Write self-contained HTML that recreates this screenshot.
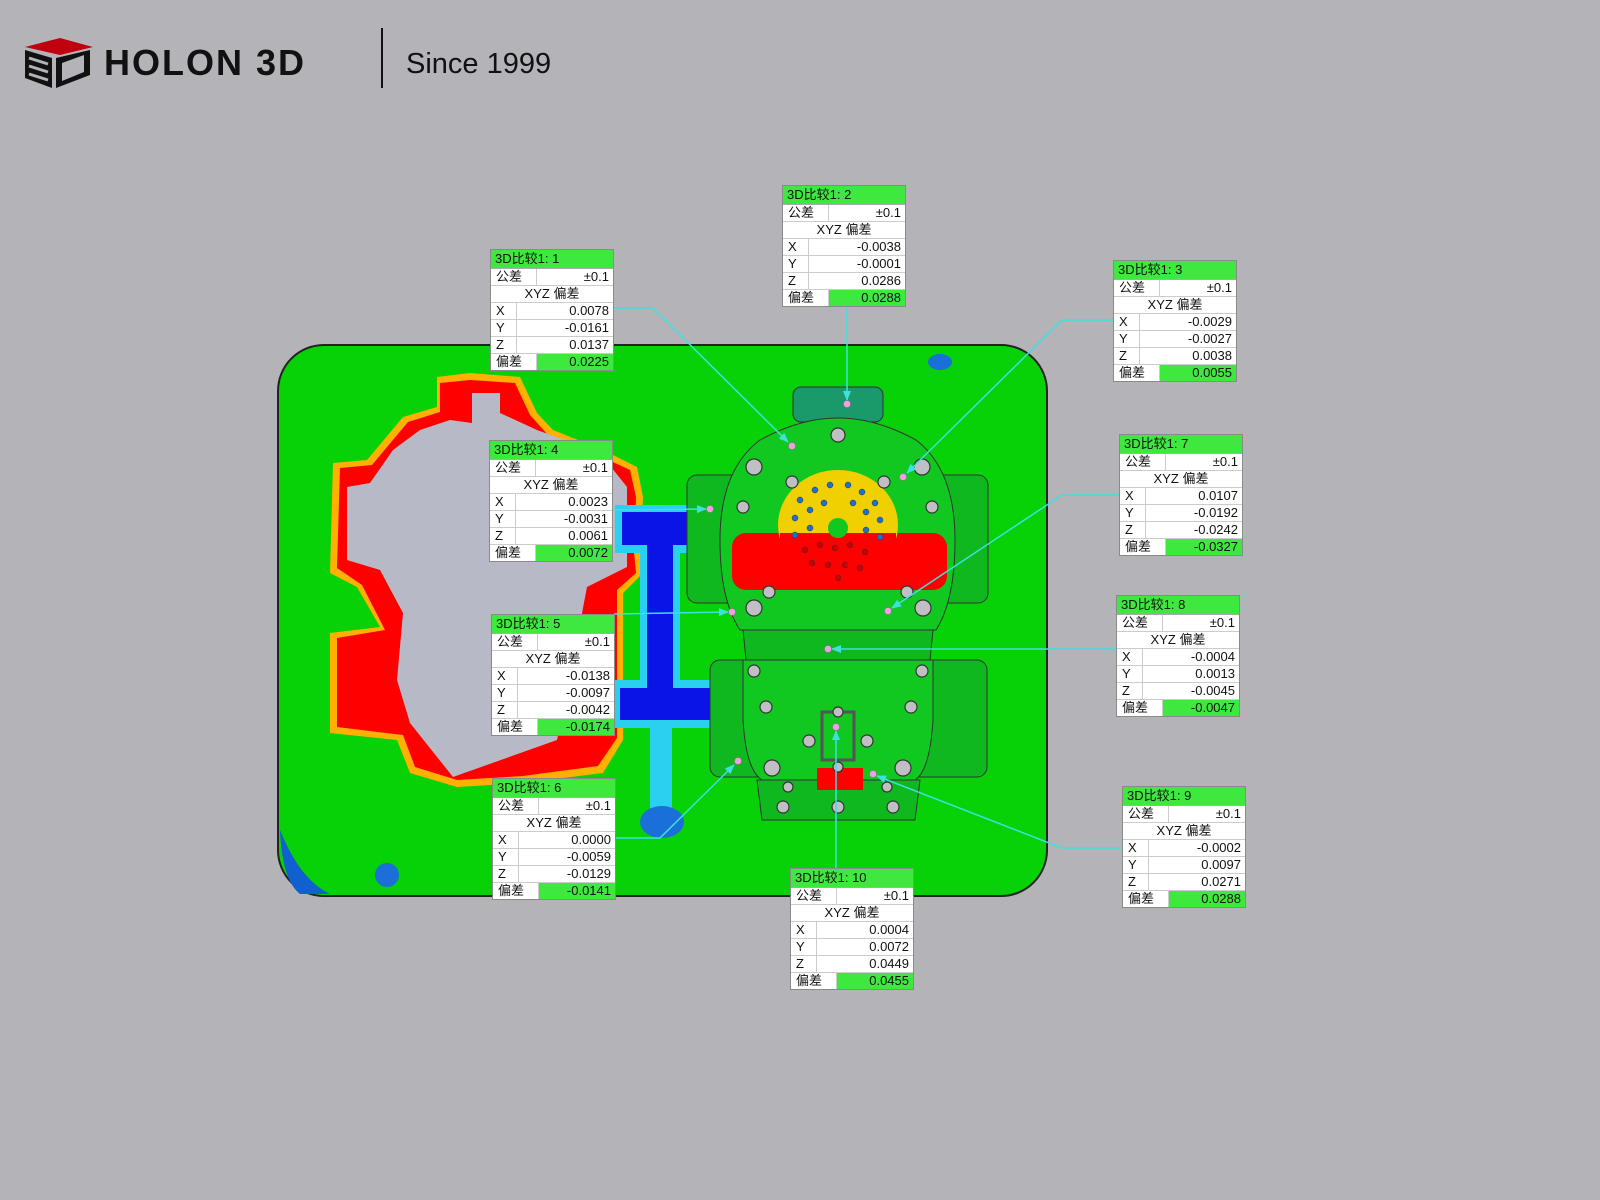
<!DOCTYPE html>
<html><head><meta charset="utf-8"><style>
body{margin:0;width:1600px;height:1200px;background:#b4b3b8;position:relative;overflow:hidden;font-family:"Liberation Sans","Noto Sans CJK SC",sans-serif}
.b{position:absolute;width:122px;border:1px solid #8a8a8a;background:#fff;font-size:13px;line-height:16px;color:#111}
.b .t{background:#3ee83e;height:18px;line-height:18px;padding-left:4px;border-bottom:1px solid #aaa}
.r{display:flex;height:16px;border-bottom:1px solid #ccc}
.r:last-child{border-bottom:none}
.r .k{padding-left:5px;border-right:1px solid #ccc}
.r .v{flex:1;text-align:right;padding-right:4px}
.r.c{justify-content:center}
.k1{width:40px}.k2{width:20px}
.g{background:#3ee83e}
</style></head><body>
<svg width="1600" height="1200" style="position:absolute;left:0;top:0">
<defs><marker id="a" markerWidth="10" markerHeight="10" refX="9" refY="5" orient="auto" markerUnits="userSpaceOnUse"><path d="M0,1 L10,5 L0,9z" fill="#3ee0e0"/></marker></defs>
<!-- logo -->
<polygon points="25,47 60,38 93,47 60,55" fill="#c0000f"/>
<path d="M25,50 L25,78 L52,88 L52,58 Z M56,58 L56,88 L90,75 L90,50 Z" fill="#111"/>
<path d="M29,58 L48,64 M29,66 L48,72 M29,74 L48,80" stroke="#b4b3b8" stroke-width="3"/>
<path d="M62,63 L84,55 L84,72 L62,81 Z" fill="#b4b3b8"/>
<text x="104" y="75" font-family="Liberation Sans" font-weight="bold" font-size="36" fill="#111" letter-spacing="2">HOLON 3D</text>
<line x1="382" y1="28" x2="382" y2="88" stroke="#111" stroke-width="2"/>
<text x="406" y="73" font-family="Liberation Sans" font-size="29" fill="#111">Since 1999</text>
<!-- panel -->
<rect x="278" y="345" width="769" height="551" rx="46" fill="#07d107" stroke="#222" stroke-width="2"/>
<path d="M280,830 Q300,880 330,894 L300,894 Q282,880 280,830Z" fill="#1060d0"/>
<circle cx="387" cy="875" r="12" fill="#1a6fd8"/>
<ellipse cx="940" cy="362" rx="12" ry="8" fill="#1a6fd8"/>
<!-- red/gray blob -->
<polygon points="437,377 470,373 520,377 537,413 553,430 603,450 637,467 643,497 640,553 643,573 623,593 623,740 603,773 523,783 457,787 410,773 397,740 330,733 330,633 380,627 357,587 330,573 333,463 367,460 403,417 437,407" fill="#ffb000"/>
<polygon points="440,383 470,380 515,383 530,415 548,435 600,456 630,470 636,497 634,553 636,573 617,590 617,738 598,766 523,776 457,780 415,767 403,735 337,727 337,638 385,630 362,585 337,568 340,468 372,465 408,422 440,412" fill="#ff0000"/>
<polygon points="472,393 500,393 500,413 537,430 600,453 627,487 627,567 587,587 563,713 557,740 453,777 410,723 397,680 403,613 380,570 347,560 347,487 370,483 393,450 420,430 450,420 472,423" fill="#b7b9c6"/>
<!-- blue T -->
<path d="M615,505 H705 V553 H680 V680 H735 V728 H612 V680 H640 V553 H615Z" fill="#29d0f0"/>
<path d="M622,512 H698 V545 H673 V688 H728 V720 H620 V688 H647 V545 H622Z" fill="#0a14e6"/>
<rect x="650" y="728" width="22" height="80" fill="#29d0f0"/>
<ellipse cx="662" cy="822" rx="22" ry="16" fill="#1a6fd8"/>
<!-- object -->
<rect x="687" y="475" width="301" height="128" rx="10" fill="#10b820" stroke="#333"/>
<rect x="710" y="660" width="277" height="117" rx="10" fill="#10b820" stroke="#333"/>
<rect x="793" y="387" width="90" height="35" rx="8" fill="#1a9a6a" stroke="#333"/>
<path d="M740,630 Q720,600 720,540 Q720,470 760,440 Q800,418 838,418 Q876,418 916,440 Q955,470 955,540 Q955,600 936,630Z" fill="#10c820" stroke="#333"/>
<rect x="732" y="533" width="215" height="57" rx="14" fill="#ff0000"/>
<ellipse cx="838" cy="525" rx="60" ry="55" fill="#f0d000"/>
<rect x="780" y="533" width="116" height="50" fill="#ff0000"/>
<circle cx="838" cy="528" r="10" fill="#10c820"/>
<g fill="#1a6fd8" stroke="#333" stroke-width="0.5">
<circle cx="800" cy="500" r="3"/><circle cx="815" cy="490" r="3"/><circle cx="830" cy="485" r="3"/><circle cx="848" cy="485" r="3"/><circle cx="862" cy="492" r="3"/><circle cx="875" cy="503" r="3"/><circle cx="795" cy="518" r="3"/><circle cx="810" cy="510" r="3"/><circle cx="824" cy="503" r="3"/><circle cx="853" cy="503" r="3"/><circle cx="866" cy="512" r="3"/><circle cx="880" cy="520" r="3"/><circle cx="810" cy="528" r="3"/><circle cx="866" cy="530" r="3"/><circle cx="795" cy="535" r="3"/><circle cx="880" cy="537" r="3"/>
</g>
<g fill="#c00" stroke="#333" stroke-width="0.5">
<circle cx="805" cy="550" r="3"/><circle cx="820" cy="545" r="3"/><circle cx="835" cy="548" r="3"/><circle cx="850" cy="545" r="3"/><circle cx="865" cy="552" r="3"/><circle cx="812" cy="563" r="3"/><circle cx="828" cy="565" r="3"/><circle cx="845" cy="565" r="3"/><circle cx="860" cy="568" r="3"/><circle cx="838" cy="578" r="3"/>
</g>
<path d="M743,630 H933 L930,660 H746Z" fill="#10b820" stroke="#333"/>
<path d="M743,660 H933 V720 Q930,770 915,780 H762 Q746,770 743,720Z" fill="#10c820" stroke="#333"/>
<path d="M757,780 H920 L915,820 H762Z" fill="#10b820" stroke="#333"/>
<rect x="817" y="768" width="46" height="22" fill="#ff0000"/>
<rect x="822" y="712" width="32" height="48" fill="none" stroke="#555" stroke-width="3"/>
<g fill="#c0c0c4" stroke="#333" stroke-width="1.2">
<circle cx="838" cy="435" r="7"/><circle cx="754" cy="467" r="8"/><circle cx="922" cy="467" r="8"/><circle cx="792" cy="482" r="6"/><circle cx="884" cy="482" r="6"/><circle cx="743" cy="507" r="6"/><circle cx="932" cy="507" r="6"/><circle cx="769" cy="592" r="6"/><circle cx="907" cy="592" r="6"/><circle cx="754" cy="608" r="8"/><circle cx="923" cy="608" r="8"/><circle cx="754" cy="671" r="6"/><circle cx="922" cy="671" r="6"/><circle cx="766" cy="707" r="6"/><circle cx="911" cy="707" r="6"/><circle cx="809" cy="741" r="6"/><circle cx="867" cy="741" r="6"/><circle cx="838" cy="712" r="5"/><circle cx="772" cy="768" r="8"/><circle cx="903" cy="768" r="8"/><circle cx="788" cy="787" r="5"/><circle cx="887" cy="787" r="5"/><circle cx="783" cy="807" r="6"/><circle cx="838" cy="807" r="6"/><circle cx="893" cy="807" r="6"/><circle cx="838" cy="767" r="5"/>
</g>
<!-- leaders -->
<g stroke="#3ee0e0" stroke-width="1.5" fill="none" marker-end="url(#a)">
<polyline points="613,308 653,308 788,442"/>
<polyline points="847,306 847,400"/>
<polyline points="1113,320 1062,320 907,473"/>
<polyline points="612,510 706,509"/>
<polyline points="614,614 728,612"/>
<polyline points="615,838 660,838 734,765"/>
<polyline points="1119,495 1062,495 892,608"/>
<polyline points="1116,649 832,649"/>
<polyline points="1122,848 1062,848 877,776"/>
<polyline points="836,868 836,731"/>
</g>
<g fill="#f0a0e0" stroke="#a060a0" stroke-width="0.5">
<circle cx="847" cy="404" r="3.5"/><circle cx="792" cy="446" r="3.5"/><circle cx="903" cy="477" r="3.5"/><circle cx="710" cy="509" r="3.5"/><circle cx="732" cy="612" r="3.5"/><circle cx="888" cy="611" r="3.5"/><circle cx="828" cy="649" r="3.5"/><circle cx="836" cy="727" r="3.5"/><circle cx="738" cy="761" r="3.5"/><circle cx="873" cy="774" r="3.5"/>
</g>
</svg>

<div class="b" style="left:490px;top:249px"><div class="t">3D比较1: 1</div><div class="r"><span class="k k1">公差</span><span class="v">±0.1</span></div><div class="r c">XYZ 偏差</div><div class="r"><span class="k k2">X</span><span class="v">0.0078</span></div><div class="r"><span class="k k2">Y</span><span class="v">-0.0161</span></div><div class="r"><span class="k k2">Z</span><span class="v">0.0137</span></div><div class="r"><span class="k k1">偏差</span><span class="v g">0.0225</span></div></div>

<div class="b" style="left:782px;top:185px"><div class="t">3D比较1: 2</div><div class="r"><span class="k k1">公差</span><span class="v">±0.1</span></div><div class="r c">XYZ 偏差</div><div class="r"><span class="k k2">X</span><span class="v">-0.0038</span></div><div class="r"><span class="k k2">Y</span><span class="v">-0.0001</span></div><div class="r"><span class="k k2">Z</span><span class="v">0.0286</span></div><div class="r"><span class="k k1">偏差</span><span class="v g">0.0288</span></div></div>

<div class="b" style="left:1113px;top:260px"><div class="t">3D比较1: 3</div><div class="r"><span class="k k1">公差</span><span class="v">±0.1</span></div><div class="r c">XYZ 偏差</div><div class="r"><span class="k k2">X</span><span class="v">-0.0029</span></div><div class="r"><span class="k k2">Y</span><span class="v">-0.0027</span></div><div class="r"><span class="k k2">Z</span><span class="v">0.0038</span></div><div class="r"><span class="k k1">偏差</span><span class="v g">0.0055</span></div></div>

<div class="b" style="left:489px;top:440px"><div class="t">3D比较1: 4</div><div class="r"><span class="k k1">公差</span><span class="v">±0.1</span></div><div class="r c">XYZ 偏差</div><div class="r"><span class="k k2">X</span><span class="v">0.0023</span></div><div class="r"><span class="k k2">Y</span><span class="v">-0.0031</span></div><div class="r"><span class="k k2">Z</span><span class="v">0.0061</span></div><div class="r"><span class="k k1">偏差</span><span class="v g">0.0072</span></div></div>

<div class="b" style="left:491px;top:614px"><div class="t">3D比较1: 5</div><div class="r"><span class="k k1">公差</span><span class="v">±0.1</span></div><div class="r c">XYZ 偏差</div><div class="r"><span class="k k2">X</span><span class="v">-0.0138</span></div><div class="r"><span class="k k2">Y</span><span class="v">-0.0097</span></div><div class="r"><span class="k k2">Z</span><span class="v">-0.0042</span></div><div class="r"><span class="k k1">偏差</span><span class="v g">-0.0174</span></div></div>

<div class="b" style="left:492px;top:778px"><div class="t">3D比较1: 6</div><div class="r"><span class="k k1">公差</span><span class="v">±0.1</span></div><div class="r c">XYZ 偏差</div><div class="r"><span class="k k2">X</span><span class="v">0.0000</span></div><div class="r"><span class="k k2">Y</span><span class="v">-0.0059</span></div><div class="r"><span class="k k2">Z</span><span class="v">-0.0129</span></div><div class="r"><span class="k k1">偏差</span><span class="v g">-0.0141</span></div></div>

<div class="b" style="left:1119px;top:434px"><div class="t">3D比较1: 7</div><div class="r"><span class="k k1">公差</span><span class="v">±0.1</span></div><div class="r c">XYZ 偏差</div><div class="r"><span class="k k2">X</span><span class="v">0.0107</span></div><div class="r"><span class="k k2">Y</span><span class="v">-0.0192</span></div><div class="r"><span class="k k2">Z</span><span class="v">-0.0242</span></div><div class="r"><span class="k k1">偏差</span><span class="v g">-0.0327</span></div></div>

<div class="b" style="left:1116px;top:595px"><div class="t">3D比较1: 8</div><div class="r"><span class="k k1">公差</span><span class="v">±0.1</span></div><div class="r c">XYZ 偏差</div><div class="r"><span class="k k2">X</span><span class="v">-0.0004</span></div><div class="r"><span class="k k2">Y</span><span class="v">0.0013</span></div><div class="r"><span class="k k2">Z</span><span class="v">-0.0045</span></div><div class="r"><span class="k k1">偏差</span><span class="v g">-0.0047</span></div></div>

<div class="b" style="left:1122px;top:786px"><div class="t">3D比较1: 9</div><div class="r"><span class="k k1">公差</span><span class="v">±0.1</span></div><div class="r c">XYZ 偏差</div><div class="r"><span class="k k2">X</span><span class="v">-0.0002</span></div><div class="r"><span class="k k2">Y</span><span class="v">0.0097</span></div><div class="r"><span class="k k2">Z</span><span class="v">0.0271</span></div><div class="r"><span class="k k1">偏差</span><span class="v g">0.0288</span></div></div>

<div class="b" style="left:790px;top:868px"><div class="t">3D比较1: 10</div><div class="r"><span class="k k1">公差</span><span class="v">±0.1</span></div><div class="r c">XYZ 偏差</div><div class="r"><span class="k k2">X</span><span class="v">0.0004</span></div><div class="r"><span class="k k2">Y</span><span class="v">0.0072</span></div><div class="r"><span class="k k2">Z</span><span class="v">0.0449</span></div><div class="r"><span class="k k1">偏差</span><span class="v g">0.0455</span></div></div>
</body></html>
